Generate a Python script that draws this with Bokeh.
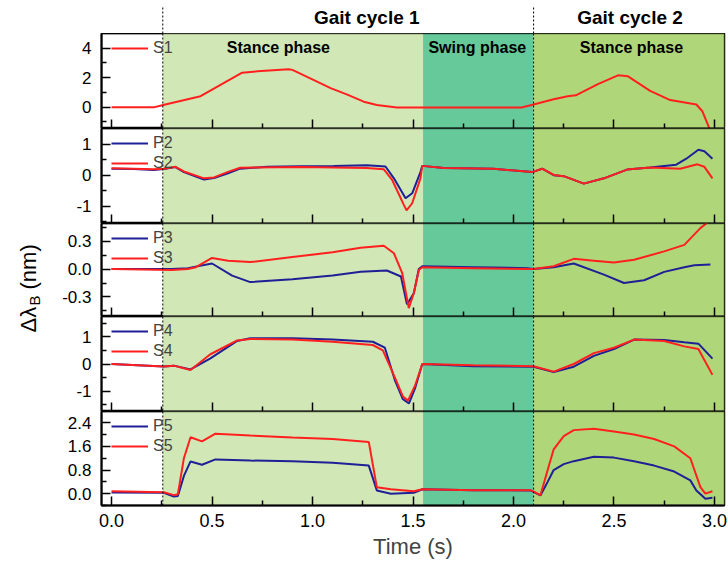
import math
from bokeh.plotting import figure
from bokeh.layouts import row, column
from bokeh.models import (Range1d, FixedTicker, Span, Label, Legend, LegendItem, BoxAnnotation,
                          PrintfTickFormatter, CustomJSTickFormatter)
from bokeh.core.properties import value
from bokeh.embed import file_html
from bokeh.resources import INLINE

FONT = "Liberation Sans"
RED = "#ff1f1f"
BLUE = "#1f1f96"

# ---------------- data ----------------
s1_t = [0, 0.215, 0.257, 0.443, 0.65, 0.725, 0.882, 0.9, 1.007, 1.09, 1.17, 1.255, 1.32, 1.42, 1.54, 2.04, 2.10,
        2.20, 2.27, 2.31, 2.42, 2.52, 2.57, 2.68, 2.78, 2.91, 2.94, 2.975]
s1_v = [0, 0, 0.14, 0.74, 2.34, 2.43, 2.57, 2.53, 1.84, 1.29, 0.87, 0.37, 0.14, -0.02, -0.02, -0.02, 0.18,
        0.53, 0.74, 0.8, 1.56, 2.16, 2.09, 1.1, 0.48, 0.18, -0.28, -1.45]

p2_t = [0, 0.11, 0.21, 0.26, 0.318, 0.36, 0.46, 0.51, 0.576, 0.64, 0.775, 0.94, 1.105, 1.27, 1.363, 1.405, 1.463,
        1.496, 1.537, 1.546, 1.654, 1.9, 2.093, 2.143, 2.2, 2.25, 2.35, 2.45, 2.565, 2.68, 2.81, 2.86, 2.92, 2.95, 2.99]
p2_v = [0.21, 0.2, 0.17, 0.2, 0.26, 0.1, -0.14, -0.09, 0.05, 0.21, 0.27, 0.29, 0.3, 0.32, 0.28, -0.1, -0.74,
        -0.58, 0.1, 0.3, 0.23, 0.21, 0.1, 0.21, 0.0, -0.03, -0.27, -0.1, 0.18, 0.25, 0.34, 0.53, 0.82, 0.77, 0.53]
s2_t = [0, 0.11, 0.21, 0.26, 0.318, 0.36, 0.46, 0.51, 0.576, 0.64, 0.94, 1.27, 1.355, 1.397, 1.455, 1.468, 1.496,
        1.537, 1.546, 1.654, 1.9, 2.093, 2.143, 2.2, 2.25, 2.35, 2.45, 2.565, 2.68, 2.83, 2.915, 2.95, 2.99]
s2_v = [0.22, 0.21, 0.19, 0.21, 0.27, 0.12, -0.1, -0.07, 0.1, 0.24, 0.26, 0.23, 0.19, -0.16, -0.96, -1.13, -0.9,
        -0.1, 0.3, 0.23, 0.21, 0.1, 0.21, 0.01, -0.03, -0.27, -0.1, 0.18, 0.25, 0.21, 0.35, 0.27, -0.1]

p3_t = [0, 0.3, 0.38, 0.5, 0.6, 0.69, 0.9, 1.1, 1.24, 1.37, 1.44, 1.47, 1.504, 1.529, 1.546, 1.8, 2.07, 2.1, 2.2,
        2.3, 2.45, 2.55, 2.65, 2.75, 2.85, 2.9, 2.98]
p3_v = [0, 0, 0.01, 0.06, -0.07, -0.14, -0.11, -0.07, -0.03, -0.015, -0.08, -0.38, -0.26, 0.0, 0.03, 0.02, 0.01,
        0.0, 0.02, 0.06, -0.06, -0.15, -0.12, -0.03, 0.02, 0.04, 0.05]
s3_t = [0, 0.3, 0.38, 0.42, 0.5, 0.58, 0.69, 0.9, 1.1, 1.239, 1.355, 1.405, 1.446, 1.479, 1.504, 1.529, 1.546, 1.8,
        2.07, 2.1, 2.2, 2.3, 2.4, 2.5, 2.6, 2.75, 2.85, 2.93, 2.965]
s3_v = [0, -0.01, 0.0, 0.02, 0.12, 0.09, 0.075, 0.13, 0.18, 0.23, 0.25, 0.17, -0.04, -0.42, -0.26, -0.01, 0.02,
        0.01, 0.0, 0.0, 0.03, 0.11, 0.09, 0.07, 0.1, 0.19, 0.26, 0.44, 0.5]

p4_t = [0, 0.26, 0.31, 0.393, 0.49, 0.625, 0.69, 0.9, 1.1, 1.3, 1.36, 1.41, 1.45, 1.48, 1.51, 1.546, 1.8, 2.1,
        2.2, 2.3, 2.4, 2.5, 2.6, 2.75, 2.85, 2.92, 2.99]
p4_v = [0, -0.09, -0.06, -0.2, 0.2, 0.85, 0.95, 0.95, 0.9, 0.82, 0.6, -0.6, -1.3, -1.45, -0.9, 0.0, -0.08, -0.1,
        -0.3, -0.1, 0.3, 0.55, 0.9, 0.88, 0.8, 0.75, 0.2]
s4_t = [0, 0.26, 0.31, 0.393, 0.49, 0.625, 0.69, 0.9, 1.1, 1.3, 1.35, 1.41, 1.45, 1.475, 1.51, 1.546, 1.8, 2.1,
        2.2, 2.3, 2.4, 2.5, 2.6, 2.75, 2.85, 2.92, 2.99]
s4_v = [0, -0.09, -0.06, -0.22, 0.35, 0.87, 0.92, 0.9, 0.82, 0.7, 0.5, -0.5, -1.2, -1.35, -0.8, 0.0, -0.05, -0.08,
        -0.28, 0.0, 0.4, 0.6, 0.9, 0.85, 0.65, 0.55, -0.4]

p5_t = [0, 0.26, 0.31, 0.33, 0.36, 0.393, 0.45, 0.517, 0.69, 0.9, 1.1, 1.28, 1.32, 1.39, 1.504, 1.547, 1.8, 2.085,
        2.134, 2.17, 2.2, 2.25, 2.3, 2.4, 2.5, 2.6, 2.7, 2.8, 2.88, 2.91, 2.955, 2.99]
p5_v = [0.04, 0.03, -0.1, -0.08, 0.6, 1.09, 0.98, 1.16, 1.12, 1.1, 1.05, 0.95, 0.11, 0.0, 0.03, 0.15, 0.12, 0.11,
        -0.06, 0.4, 0.8, 1.0, 1.1, 1.25, 1.22, 1.1, 0.95, 0.75, 0.45, 0.11, -0.17, -0.14]
s5_t = [0, 0.26, 0.31, 0.33, 0.36, 0.393, 0.45, 0.517, 0.69, 0.9, 1.1, 1.28, 1.32, 1.39, 1.504, 1.547, 1.8, 2.085,
        2.134, 2.17, 2.2, 2.25, 2.3, 2.4, 2.5, 2.6, 2.7, 2.8, 2.88, 2.93, 2.955, 2.99]
s5_v = [0.08, 0.05, -0.05, -0.02, 1.2, 1.91, 1.77, 2.03, 1.97, 1.9, 1.85, 1.75, 0.22, 0.15, 0.08, 0.15, 0.12, 0.12,
        -0.05, 0.8, 1.5, 1.95, 2.15, 2.2, 2.1, 2.0, 1.85, 1.6, 1.2, 0.22, 0.0, 0.08]

x_ticks = [0, 0.5, 1.0, 1.5, 2.0, 2.5, 3.0]
x_minor = [0.25, 0.75, 1.25, 1.75, 2.25, 2.75]
x_lim = (-0.05, 3.05)

phase_start = [0.255, 1.55, 2.1]
phase_end = [1.55, 2.1, x_lim[1]]
phase_colors = ["#d1e7b5", "#66c999", "#b0d67a"]
phase_names = ["Stance phase", "Swing phase", "Stance phase"]
phase_label_x = [0.83, 1.82, 2.587]
cycle_starts = [0.255, 2.1]
cycle_names = ["Gait cycle 1", "Gait cycle 2"]
cycle_label_x = [1.27, 2.58]

panels = [
    dict(yr=(-1.45, 5.0), ticks=[0, 2, 4], minor=[-1, 1, 3], h=95, fmt="%d",
         series=[("S1", s1_t, s1_v, RED)]),
    dict(yr=(-1.55, 1.5), ticks=[-1, 0, 1], minor=[-1.5, -0.5, 0.5], h=95, fmt="%d",
         series=[("P2", p2_t, p2_v, BLUE), ("S2", s2_t, s2_v, RED)]),
    dict(yr=(-0.51, 0.49), ticks=[-0.3, 0.0, 0.3], minor=[-0.45, -0.15, 0.15, 0.45], h=93, fmt="%.1f",
         series=[("P3", p3_t, p3_v, BLUE), ("S3", s3_t, s3_v, RED)]),
    dict(yr=(-1.75, 1.75), ticks=[-1, 0, 1], minor=[-1.5, -0.5, 0.5, 1.5], h=95, fmt="%d",
         series=[("P4", p4_t, p4_v, BLUE), ("S4", s4_t, s4_v, RED)]),
    dict(yr=(-0.4, 2.78), ticks=[0.0, 0.8, 1.6, 2.4], minor=[-0.4, 0.4, 1.2, 2.0], h=94, fmt="%.1f",
         series=[("P5", p5_t, p5_v, BLUE), ("S5", s5_t, s5_v, RED)]),
]

xr = Range1d(*x_lim)
FW = 623
LB = 51
RB = 4


def style_axis(ax, size="17px"):
    ax.axis_line_width = 2
    ax.axis_line_color = "black"
    ax.major_tick_in = 9
    ax.major_tick_out = 0
    ax.minor_tick_in = 5
    ax.minor_tick_out = 0
    ax.major_tick_line_width = 1.5
    ax.minor_tick_line_width = 1.5
    ax.major_tick_line_color = "black"
    ax.minor_tick_line_color = "black"
    ax.major_label_text_font = FONT
    ax.major_label_text_font_size = size
    ax.major_label_text_color = "black"


figs = []

top = figure(x_range=xr, y_range=Range1d(0, 33), frame_width=FW, frame_height=33,
             min_border_left=LB, min_border_right=RB, min_border_top=0, min_border_bottom=0,
             x_axis_location=None, y_axis_location=None, title=None,
             output_backend="svg", toolbar_location=None)
top.outline_line_color = None
top.xgrid.grid_line_color = None
top.ygrid.grid_line_color = None
top.segment(x0=cycle_starts, y0=[0, 0], x1=cycle_starts, y1=[26, 26],
            line_color="black", line_width=1, line_dash="2 2")
top.text(x=cycle_label_x, y=[16, 16], text=cycle_names, text_font=value(FONT), text_font_size="19px",
         text_font_style="bold", text_align="center", text_baseline="middle", text_color="black")
figs.append(top)

for i, spec in enumerate(panels):
    bottom = i == len(panels) - 1
    ylo, yhi = spec["yr"]
    p = figure(x_range=xr, y_range=Range1d(ylo, yhi), frame_width=FW, frame_height=spec["h"],
               min_border_left=LB, min_border_right=RB, min_border_top=0,
               min_border_bottom=(58 if bottom else 0), title=None,
               output_backend="svg", toolbar_location=None)
    p.xgrid.grid_line_color = None
    p.ygrid.grid_line_color = None
    p.outline_line_color = "black"
    p.outline_line_width = 1.5
    p.background_fill_color = "white"

    p.quad(left=phase_start, right=phase_end, bottom=[ylo] * 3, top=[yhi] * 3,
           fill_color=phase_colors, fill_alpha=1, line_alpha=0)
    for b in cycle_starts:
        p.add_layout(Span(location=b, dimension="height", line_color="black", line_width=1, line_dash="2 2"))

    items = []
    for name, t, v, col in spec["series"]:
        r = p.line(t, v, line_color=col, line_width=2)
        items.append(LegendItem(label=name, renderers=[r]))
    n = len(items)
    leg = Legend(items=items, location=(10, spec["h"] - 5 - 20 * n), margin=0, padding=0, spacing=0,
                 glyph_width=37, glyph_height=20, label_height=20, label_standoff=5,
                 label_text_font=FONT, label_text_font_size="16px",
                 background_fill_alpha=0, border_line_alpha=0)
    p.add_layout(leg)

    # frame border drawn above the shading
    p.add_layout(BoxAnnotation(fill_alpha=0, line_color="black", line_width=2))

    if i == 0:
        for nm, lx in zip(phase_names, phase_label_x):
            p.add_layout(Label(x=lx, y=4.05, text=nm, text_font=FONT, text_font_size="16px",
                               text_font_style="bold", text_align="center", text_baseline="middle",
                               text_color="black"))

    p.xaxis.ticker = FixedTicker(ticks=x_ticks, minor_ticks=x_minor)
    p.yaxis.ticker = FixedTicker(ticks=spec["ticks"], minor_ticks=spec["minor"])
    p.yaxis.formatter = PrintfTickFormatter(format=spec["fmt"])
    style_axis(p.yaxis[0])
    p.yaxis.major_label_standoff = 10
    style_axis(p.xaxis[0], "18px")
    if bottom:
        p.xaxis.formatter = PrintfTickFormatter(format="%.1f")
        p.xaxis.major_label_standoff = 8
        p.xaxis.axis_label = "Time (s)"
        p.xaxis.axis_label_text_font = FONT
        p.xaxis.axis_label_text_font_size = "22px"
        p.xaxis.axis_label_text_font_style = "normal"
        p.xaxis.axis_label_standoff = 4
    else:
        p.xaxis.formatter = CustomJSTickFormatter(code="return ''")
        p.xaxis.major_label_text_font_size = "1px"
        p.xaxis.major_label_standoff = 0
    figs.append(p)

left = figure(x_range=Range1d(0, 50), y_range=Range1d(0, 563), width=50, height=563,
              min_border_left=0, min_border_right=0, min_border_top=0, min_border_bottom=0,
              x_axis_location=None, y_axis_location=None, title=None,
              output_backend="svg", toolbar_location=None)
left.outline_line_color = None
left.xgrid.grid_line_color = None
left.ygrid.grid_line_color = None
left.text(x=[28], y=[231], text=["Δλ"], angle=math.pi / 2, text_font=value(FONT), text_font_size="22px",
          text_align="left", text_baseline="middle", text_color="black")
left.text(x=[34], y=[258], text=["B"], angle=math.pi / 2, text_font=value(FONT), text_font_size="15px",
          text_align="left", text_baseline="middle", text_color="black")
left.text(x=[28], y=[274], text=["(nm)"], angle=math.pi / 2, text_font=value(FONT), text_font_size="22px",
          text_align="left", text_baseline="middle", text_color="black")

layout = row(left, column(*figs, spacing=0), spacing=0)
open("out.html", "w").write(file_html(layout, INLINE))
